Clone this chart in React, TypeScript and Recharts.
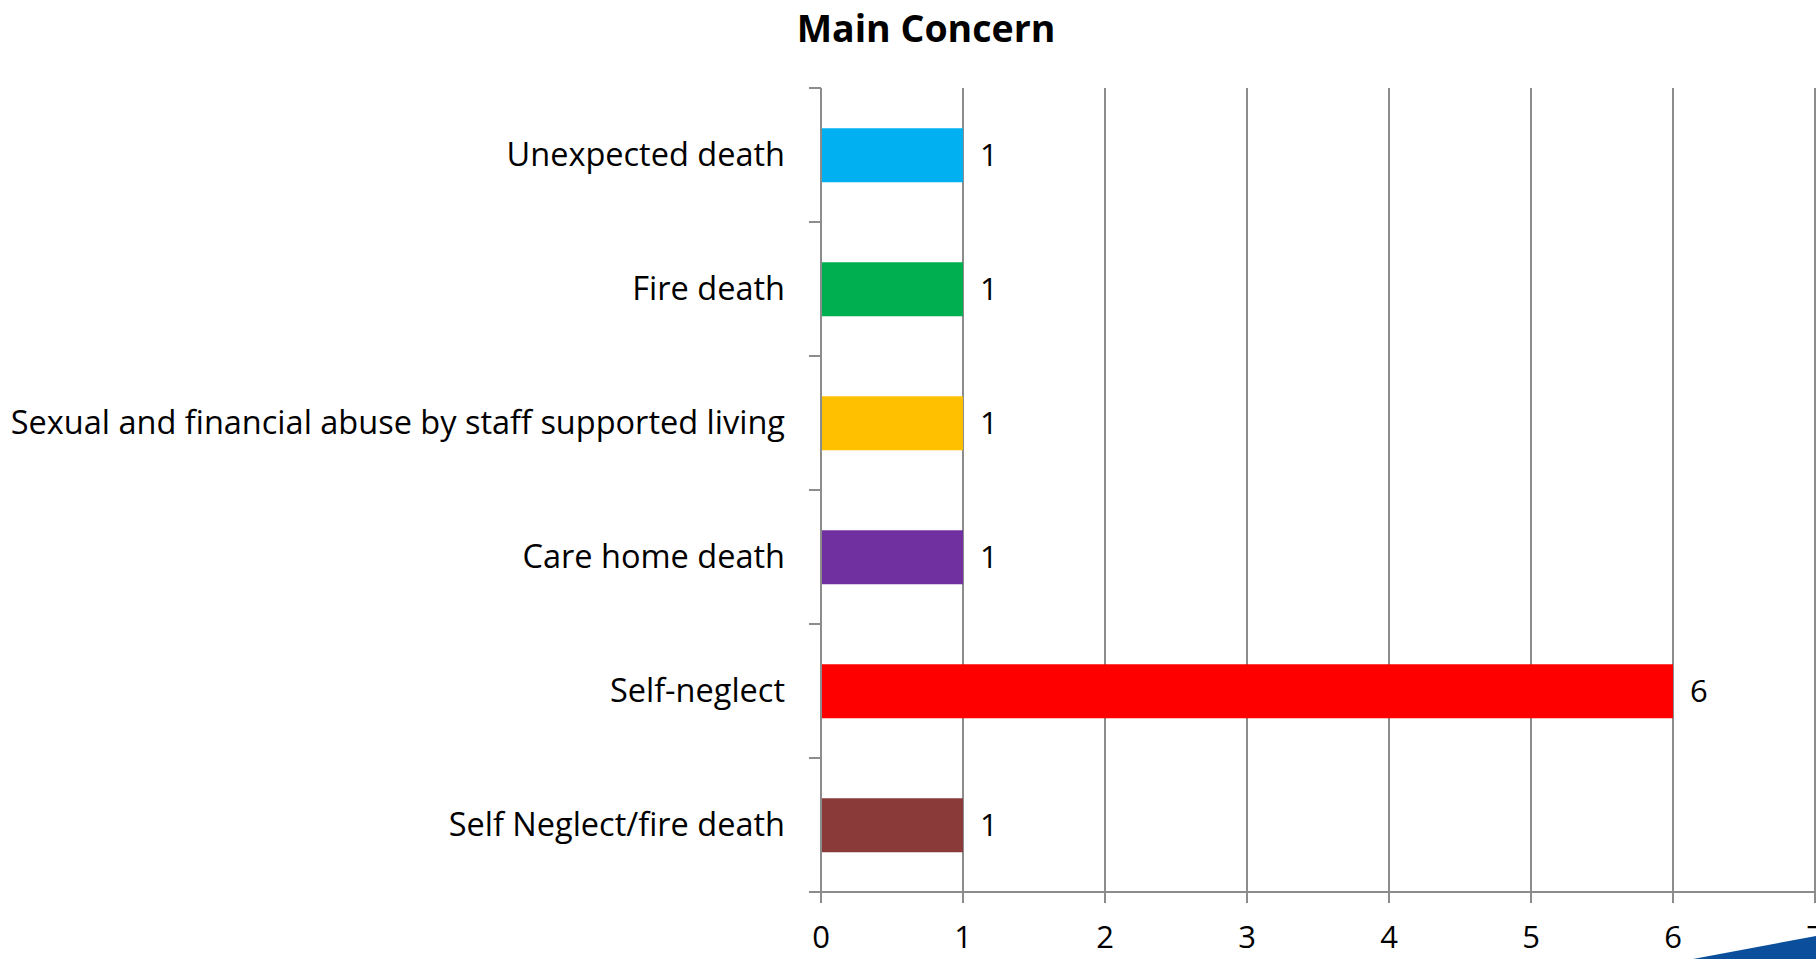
import React from "react";
import { BarChart, Bar, XAxis, YAxis, CartesianGrid, Cell, LabelList } from "recharts";

const categories = [
  "Unexpected death",
  "Fire death",
  "Sexual and financial abuse by staff supported living",
  "Care home death",
  "Self-neglect",
  "Self Neglect/fire death",
];
const counts = [1, 1, 1, 1, 6, 1];
const barColors = ["#00B0F0", "#00B050", "#FFC000", "#7030A0", "#FF0000", "#8B3A3A"];
const xTicks = [0, 1, 2, 3, 4, 5, 6, 7];
const title = "Main Concern";

const data = categories.map((name, i) => ({ name, value: counts[i] }));

const FONT = "'Open Sans', Lato, sans-serif";
const GRAY = "#8c8c8c";
const TICK_SIZE = 12;
const TICK_MARGIN = 24;

const YTick = (props: any) => {
  const { x, y, payload, index, visibleTicksCount } = props;
  const half = payload && typeof payload.offset === "number" && payload.offset > 0 ? payload.offset : 67;
  const lx1 = x + TICK_MARGIN;
  const lx2 = x + TICK_MARGIN + TICK_SIZE;
  const count = visibleTicksCount ?? categories.length;
  return (
    <g>
      <line x1={lx1} x2={lx2} y1={y - half} y2={y - half} stroke={GRAY} strokeWidth={2} />
      {index === count - 1 && (
        <line x1={lx1} x2={lx2} y1={y + half} y2={y + half} stroke={GRAY} strokeWidth={2} />
      )}
      <text x={x} y={y} dy="0.35em" textAnchor="end" fill="#000" fontSize={32.5} fontFamily={FONT}>
        {payload.value}
      </text>
    </g>
  );
};

export default function App() {
  return (
    <div style={{ position: "absolute", left: 0, top: 0, width: 1816, height: 959, background: "#fff", overflow: "hidden" }}>
      <div
        style={{
          position: "absolute",
          left: 0,
          width: 1852,
          top: 2,
          textAlign: "center",
          fontFamily: FONT,
          fontWeight: "bold",
          fontSize: 37.5,
          color: "#000",
        }}
      >
        {title}
      </div>
      <BarChart
        width={1816}
        height={959}
        data={data}
        layout="vertical"
        margin={{ top: 88, right: 1, bottom: 7, left: 0 }}
        barCategoryGap="30%"
      >
        <CartesianGrid horizontal={false} vertical={true} stroke={GRAY} strokeWidth={2} />
        <XAxis
          type="number"
          domain={[0, 7]}
          ticks={xTicks}
          interval={0}
          height={60}
          axisLine={{ stroke: GRAY, strokeWidth: 2 }}
          tickLine={{ stroke: GRAY, strokeWidth: 2 }}
          tickSize={11}
          tickMargin={23}
          tick={{ fill: "#000", fontSize: 31, fontFamily: FONT }}
        />
        <YAxis
          type="category"
          dataKey="name"
          width={821}
          axisLine={{ stroke: GRAY, strokeWidth: 2 }}
          tickLine={false}
          tickSize={TICK_SIZE}
          tickMargin={TICK_MARGIN}
          interval={0}
          tick={<YTick />}
        />
        <Bar dataKey="value" isAnimationActive={false}>
          {data.map((d, i) => (
            <Cell key={d.name} fill={barColors[i]} />
          ))}
          <LabelList dataKey="value" position="right" offset={17} fill="#000" fontSize={31} fontFamily={FONT} />
        </Bar>
      </BarChart>
      <svg style={{ position: "absolute", left: 0, top: 0 }} width={1816} height={959}>
        <polygon points="1693,959 1816,936 1816,959" fill="#0B4F9C" />
      </svg>
    </div>
  );
}
